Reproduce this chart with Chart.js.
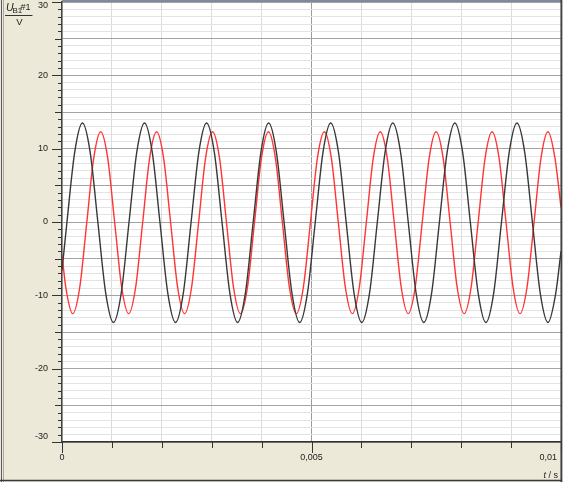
<!DOCTYPE html>
<html>
<head>
<meta charset="utf-8">
<script src="https://cdn.jsdelivr.net/npm/chart.js@4.4.1/dist/chart.umd.min.js"></script>
<style>
html,body{margin:0;padding:0;background:#ECE9D8;overflow:hidden;}
canvas{display:block;}
</style>
</head>
<body>
<canvas id="c" width="563" height="482"></canvas>
<script>
// time in ms (axis shows seconds)
const blackTimeMs = [0, 0.098, 0.254, 0.409, 0.565, 0.720, 0.876, 1.031, 1.187, 1.342, 1.498, 1.653, 1.809, 1.964, 2.120, 2.275, 2.431, 2.586, 2.742, 2.897, 3.053, 3.208, 3.364, 3.519, 3.675, 3.830, 3.986, 4.141, 4.297, 4.452, 4.608, 4.763, 4.919, 5.074, 5.230, 5.385, 5.541, 5.696, 5.852, 6.007, 6.163, 6.318, 6.474, 6.629, 6.785, 6.940, 7.096, 7.251, 7.407, 7.562, 7.718, 7.873, 8.029, 8.184, 8.340, 8.495, 8.651, 8.806, 8.962, 9.117, 9.273, 9.428, 9.584, 9.739, 9.895, 10];
const blackValues = [-6.6,
  -0.1, 9.5,
  13.5, 9.5, -0.1, -9.7, -13.7, -9.7, -0.1, 9.5,
  13.5, 9.5, -0.1, -9.7, -13.7, -9.7, -0.1, 9.5,
  13.5, 9.5, -0.1, -9.7, -13.7, -9.7, -0.1, 9.5,
  13.5, 9.5, -0.1, -9.7, -13.7, -9.7, -0.1, 9.5,
  13.5, 9.5, -0.1, -9.7, -13.7, -9.7, -0.1, 9.5,
  13.5, 9.5, -0.1, -9.7, -13.7, -9.7, -0.1, 9.5,
  13.5, 9.5, -0.1, -9.7, -13.7, -9.7, -0.1, 9.5,
  13.5, 9.5, -0.1, -9.7, -13.7, -9.7,
  -4.0];
const redTimeMs = [0, 0.076, 0.216, 0.356, 0.496, 0.636, 0.776, 0.916, 1.056, 1.196, 1.336, 1.476, 1.616, 1.756, 1.896, 2.036, 2.177, 2.317, 2.457, 2.597, 2.737, 2.877, 3.017, 3.157, 3.297, 3.437, 3.577, 3.717, 3.857, 3.997, 4.137, 4.277, 4.417, 4.557, 4.697, 4.837, 4.978, 5.118, 5.258, 5.398, 5.538, 5.678, 5.818, 5.958, 6.098, 6.238, 6.378, 6.518, 6.658, 6.798, 6.938, 7.078, 7.218, 7.358, 7.498, 7.638, 7.779, 7.919, 8.059, 8.199, 8.339, 8.479, 8.619, 8.759, 8.899, 9.039, 9.179, 9.319, 9.459, 9.599, 9.739, 9.879, 10];
const redValues = [-4.5,
  -8.9, -12.5, -8.9, -0.1, 8.7,
  12.3, 8.7, -0.1, -8.9, -12.5, -8.9, -0.1, 8.7,
  12.3, 8.7, -0.1, -8.9, -12.5, -8.9, -0.1, 8.7,
  12.3, 8.7, -0.1, -8.9, -12.5, -8.9, -0.1, 8.7,
  12.3, 8.7, -0.1, -8.9, -12.5, -8.9, -0.1, 8.7,
  12.3, 8.7, -0.1, -8.9, -12.5, -8.9, -0.1, 8.7,
  12.3, 8.7, -0.1, -8.9, -12.5, -8.9, -0.1, 8.7,
  12.3, 8.7, -0.1, -8.9, -12.5, -8.9, -0.1, 8.7,
  12.3, 8.7, -0.1, -8.9, -12.5, -8.9, -0.1, 8.7,
  12.3, 8.7,
  2.0];
const yTickLabels = [30, 20, 10, 0, -10, -20, -30];
const xTickLabels = [{v: 0, t: '0'}, {v: 5, t: '0,005'}, {v: 10, t: '0,01'}];

const W = 563, H = 482;
const FONT = '"Liberation Sans", Arial, sans-serif';

const toXY = (ts, vs) => ts.map((t, i) => ({x: t, y: vs[i]}));

const deco = {
  id: 'deco',
  beforeDraw(chart) {
    const c = chart.ctx, a = chart.chartArea;
    c.save();
    c.fillStyle = '#ECE9D8';
    c.fillRect(0, 0, W, H);
    c.fillStyle = '#ffffff';
    c.fillRect(a.left, a.top, a.right - a.left, a.bottom - a.top);
    c.restore();
  },
  afterDraw(chart) {
    const c = chart.ctx, a = chart.chartArea;
    const xs = chart.scales.x, ys = chart.scales.y;
    c.save();
    // y tick marks
    c.strokeStyle = '#333';
    c.lineWidth = 1;
    for (let v = -30; v <= 30; v++) {
      const y = Math.round(ys.getPixelForValue(v)) + 0.5;
      const len = v % 10 === 0 ? 10 : (v % 5 === 0 ? 7 : 4);
      c.beginPath(); c.moveTo(a.left - len, y); c.lineTo(a.left, y); c.stroke();
    }
    // x tick marks
    for (let v = 0; v <= 10; v++) {
      const x = Math.round(xs.getPixelForValue(v)) + 0.5;
      const len = v % 5 === 0 ? 11 : 6;
      c.beginPath(); c.moveTo(x, a.bottom); c.lineTo(x, a.bottom + len); c.stroke();
    }
    // y labels
    c.fillStyle = '#222';
    c.font = '9px ' + FONT;
    c.textAlign = 'right';
    c.textBaseline = 'middle';
    yTickLabels.forEach(v => {
      let y = ys.getPixelForValue(v);
      y = Math.max(5.5, Math.min(437, y));
      c.fillText(String(v), 48, y);
    });
    // x labels
    c.textBaseline = 'middle';
    xTickLabels.forEach((o, i) => {
      const x = xs.getPixelForValue(o.v);
      if (i === xTickLabels.length - 1) { c.textAlign = 'right'; c.fillText(o.t, 557, 458); }
      else { c.textAlign = 'center'; c.fillText(o.t, x, 458); }
    });
    // x axis title  t / s
    c.textBaseline = 'alphabetic';
    c.textAlign = 'right';
    c.font = '9px ' + FONT;
    c.fillText(' / s', 558, 477.5);
    const wS = c.measureText(' / s').width;
    c.font = 'italic 9px ' + FONT;
    c.fillText('t', 558 - wS, 477.5);
    // y axis title U_B1#1 / V
    c.textAlign = 'left';
    c.font = 'italic 10.5px ' + FONT;
    c.fillText('U', 6, 11);
    c.font = '8px ' + FONT;
    c.fillText('B1', 12.5, 13);
    c.font = '9px ' + FONT;
    c.fillText('#1', 20.5, 9.5);
    c.strokeStyle = '#333';
    c.beginPath(); c.moveTo(5, 15.5); c.lineTo(32.5, 15.5); c.stroke();
    c.textAlign = 'center';
    c.font = '9.5px ' + FONT;
    c.fillText('V', 19.5, 25);
    // plot top border
    c.strokeStyle = '#5d6a86';
    c.lineWidth = 1.5;
    c.beginPath(); c.moveTo(a.left, 1); c.lineTo(a.right, 1); c.stroke();
    // frame lines
    c.lineWidth = 1;
    c.strokeStyle = '#5a5a5a';
    c.beginPath(); c.moveTo(1.5, 0); c.lineTo(1.5, H); c.stroke();
    c.strokeStyle = '#a8a8a8';
    c.beginPath(); c.moveTo(3.5, 0); c.lineTo(3.5, H); c.stroke();
    c.strokeStyle = '#3a3a3a';
    c.lineWidth = 1.5;
    c.beginPath(); c.moveTo(0, 480.5); c.lineTo(W, 480.5); c.stroke();
    c.beginPath(); c.moveTo(561.2, 0); c.lineTo(561.2, H); c.stroke();
    c.fillStyle = '#b8b8b8';
    c.fillRect(562, 0, 1, H);
    c.restore();
  }
};

new Chart(document.getElementById('c'), {
  type: 'line',
  data: {
    datasets: [
      {label: 'black', data: toXY(blackTimeMs, blackValues), borderColor: '#383838', borderWidth: 1.4,
       pointRadius: 0, fill: false, cubicInterpolationMode: 'monotone'},
      {label: 'red', data: toXY(redTimeMs, redValues), borderColor: '#ff3535', borderWidth: 1.4,
       pointRadius: 0, fill: false, cubicInterpolationMode: 'monotone'}
    ]
  },
  options: {
    responsive: false,
    animation: false,
    devicePixelRatio: 1,
    parsing: false,
    layout: {padding: {left: 62, top: 2, right: 2, bottom: 40}},
    plugins: {legend: {display: false}, tooltip: {enabled: false}},
    scales: {
      x: {
        type: 'linear', min: 0, max: 10,
        ticks: {display: false, stepSize: 1, autoSkip: false},
        grid: {drawTicks: false, lineWidth: 1,
          color: ctx => (Math.round(ctx.tick.value) === 5 ? '#9c9c9c' : '#dcdcdc')},
        border: {display: true, color: '#333', width: 1.5}
      },
      y: {
        type: 'linear', min: -30, max: 30,
        ticks: {display: false, stepSize: 1, autoSkip: false},
        grid: {drawTicks: false, lineWidth: 1,
          color: ctx => (Math.round(ctx.tick.value) % 5 === 0 ? '#a3a3a3' : '#e3e3e3')},
        border: {display: true, color: '#444', width: 1.5}
      }
    }
  },
  plugins: [deco]
});
</script>
</body>
</html>
